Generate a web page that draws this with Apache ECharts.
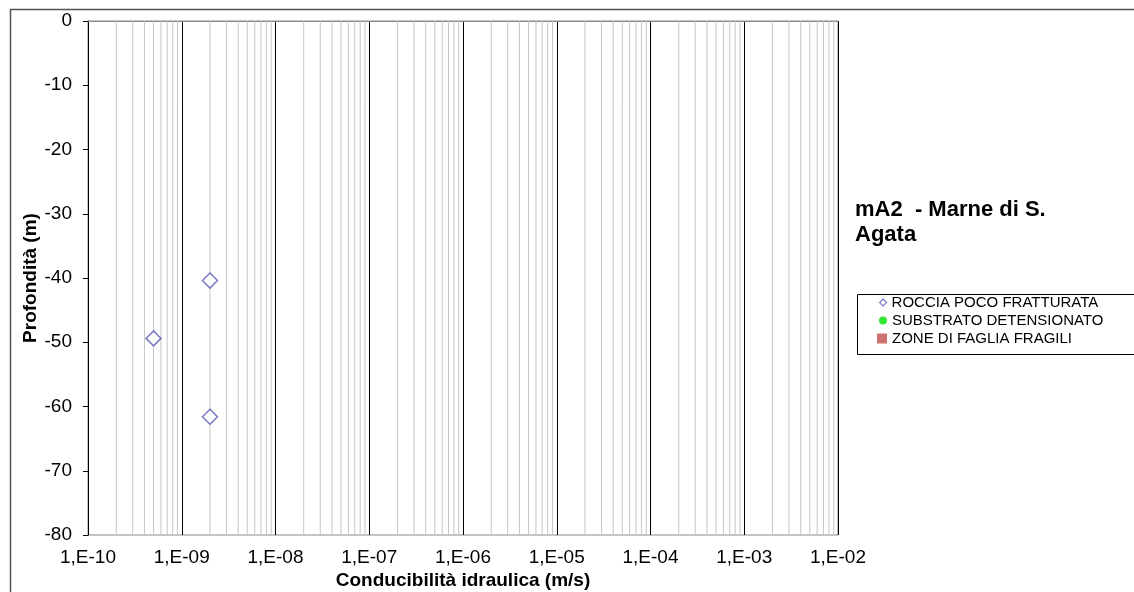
<!DOCTYPE html>
<html><head><meta charset="utf-8">
<script src="https://cdn.jsdelivr.net/npm/echarts@6/dist/echarts.min.js"></script>
<style>html,body{margin:0;padding:0;background:#fff}#c{width:1134px;height:592px}</style>
</head><body><div id="c"></div>
<script>
// ---- data ----
const seriesNames = ['ROCCIA POCO FRATTURATA', 'SUBSTRATO DETENSIONATO', 'ZONE DI FAGLIA FRAGILI'];
const rocciaK = [5e-10, 2e-9, 2e-9];          // conducibilità (m/s)
const rocciaZ = [-49.4, -40.4, -61.6];        // profondità (m)
const substratoK = [];
const substratoZ = [];
const fagliaK = [];
const fagliaZ = [];
const xMin = 1e-10, xMax = 1e-2;
const yMin = -80, yMax = 0, yStep = 10;
const titleLines = ['mA2  - Marne di S.', 'Agata'];
const xName = 'Conducibilità idraulica (m/s)';
const yName = 'Profondità (m)';

const FONT = '"Liberation Sans", Arial, sans-serif';
const pairs = (a, b) => a.map((v, i) => [v, b[i]]);

// minor log grid values 2..9 x 10^e
const minorVals = [];
for (let e = Math.round(Math.log10(xMin)); e < Math.round(Math.log10(xMax)); e++) {
  for (let k = 2; k <= 9; k++) minorVals.push(k * Math.pow(10, e));
}

const fmtX = v => {
  const e = Math.round(Math.log10(v));
  return '1,E' + (e < 0 ? '-' : '+') + String(Math.abs(e)).padStart(2, '0');
};

const minorSeries = minorVals.map(v => ({
  type: 'line', silent: true, z: 1, showSymbol: false, symbol: 'none',
  data: [[v, yMin], [v, yMax]],
  lineStyle: {color: '#c6c6c6', width: 1},
  emphasis: {disabled: true}, tooltip: {show: false}
}));

const chart = echarts.init(document.getElementById('c'), null, {renderer: 'canvas'});
chart.setOption({
  animation: false,
  backgroundColor: '#fff',
  grid: {left: 88, top: 21, right: 296, bottom: 57, show: true, borderColor: '#8a8a8a', borderWidth: 1, backgroundColor: 'transparent'},
  xAxis: {
    type: 'log', logBase: 10, min: xMin, max: xMax, splitNumber: 8,
    axisLine: {show: true, lineStyle: {color: '#8a8a8a', width: 1}},
    axisTick: {show: false},
    axisLabel: {formatter: fmtX, color: '#000', fontFamily: FONT, fontSize: 19, margin: 13},
    splitLine: {show: true, showMinLine: false, showMaxLine: false, lineStyle: {color: '#000', width: 1}},
    minorTick: {show: false}, minorSplitLine: {show: false}
  },
  yAxis: {
    type: 'value', min: yMin, max: yMax, interval: yStep,
    axisLine: {show: true, onZero: false, lineStyle: {color: '#000', width: 1}},
    axisTick: {show: true, inside: false, length: 5, lineStyle: {color: '#000'}},
    axisLabel: {color: '#000', fontFamily: FONT, fontSize: 19, margin: 16},
    splitLine: {show: false}
  },
  legend: [
    {data: [{name: seriesNames[0], icon: 'diamond', itemStyle: {color: '#ffffff', borderColor: '#5a5ab8', borderWidth: 1.2}}],
     left: 879, top: 295, orient: 'vertical', padding: 0,
     itemWidth: 7, itemHeight: 7, textStyle: {fontFamily: FONT, fontSize: 15, color: '#000'}},
    {data: [{name: seriesNames[1], icon: 'circle'}], left: 879, top: 313, orient: 'vertical', padding: 0,
     itemWidth: 8, itemHeight: 8, textStyle: {fontFamily: FONT, fontSize: 15, color: '#000'}},
    {data: [{name: seriesNames[2], icon: 'rect'}], left: 877, top: 331, orient: 'vertical', padding: 0,
     itemWidth: 10, itemHeight: 10, textStyle: {fontFamily: FONT, fontSize: 15, color: '#000'}}
  ],
  series: minorSeries.concat([
    {
      name: seriesNames[0], type: 'scatter', z: 5, data: pairs(rocciaK, rocciaZ),
      symbol: 'diamond', symbolSize: 15,
      itemStyle: {color: '#ffffff', borderColor: '#5a5ab8', borderWidth: 1.5}
    },
    {
      name: seriesNames[1], type: 'scatter', z: 5, data: pairs(substratoK, substratoZ),
      symbol: 'circle', symbolSize: 9, itemStyle: {color: '#00e000'}
    },
    {
      name: seriesNames[2], type: 'scatter', z: 5, data: pairs(fagliaK, fagliaZ),
      symbol: 'rect', symbolSize: 10, itemStyle: {color: '#c0504d'}
    }
  ]),
  graphic: [
    {type: 'rect', silent: true, z: 100, shape: {x: 10.5, y: 9.5, width: 1300, height: 800},
     style: {fill: 'none', stroke: '#555', lineWidth: 1.5}},
    {type: 'rect', silent: true, z: 100, shape: {x: 857.5, y: 294.5, width: 400, height: 60},
     style: {fill: 'none', stroke: '#000', lineWidth: 1}},
    {type: 'text', silent: true, z: 100, x: 855, y: 197,
     style: {text: titleLines.join('\n'), font: 'bold 22px ' + FONT, fill: '#000', lineHeight: 25, align: 'left', verticalAlign: 'top'}},
    {type: 'text', silent: true, z: 100, x: 463, y: 581,
     style: {text: xName, font: 'bold 19px ' + FONT, fill: '#000', align: 'center', verticalAlign: 'middle'}},
    {type: 'text', silent: true, z: 100, x: 31, y: 278, rotation: Math.PI / 2,
     style: {text: yName, font: 'bold 19px ' + FONT, fill: '#000', align: 'center', verticalAlign: 'middle'}}
  ]
});
</script></body></html>
